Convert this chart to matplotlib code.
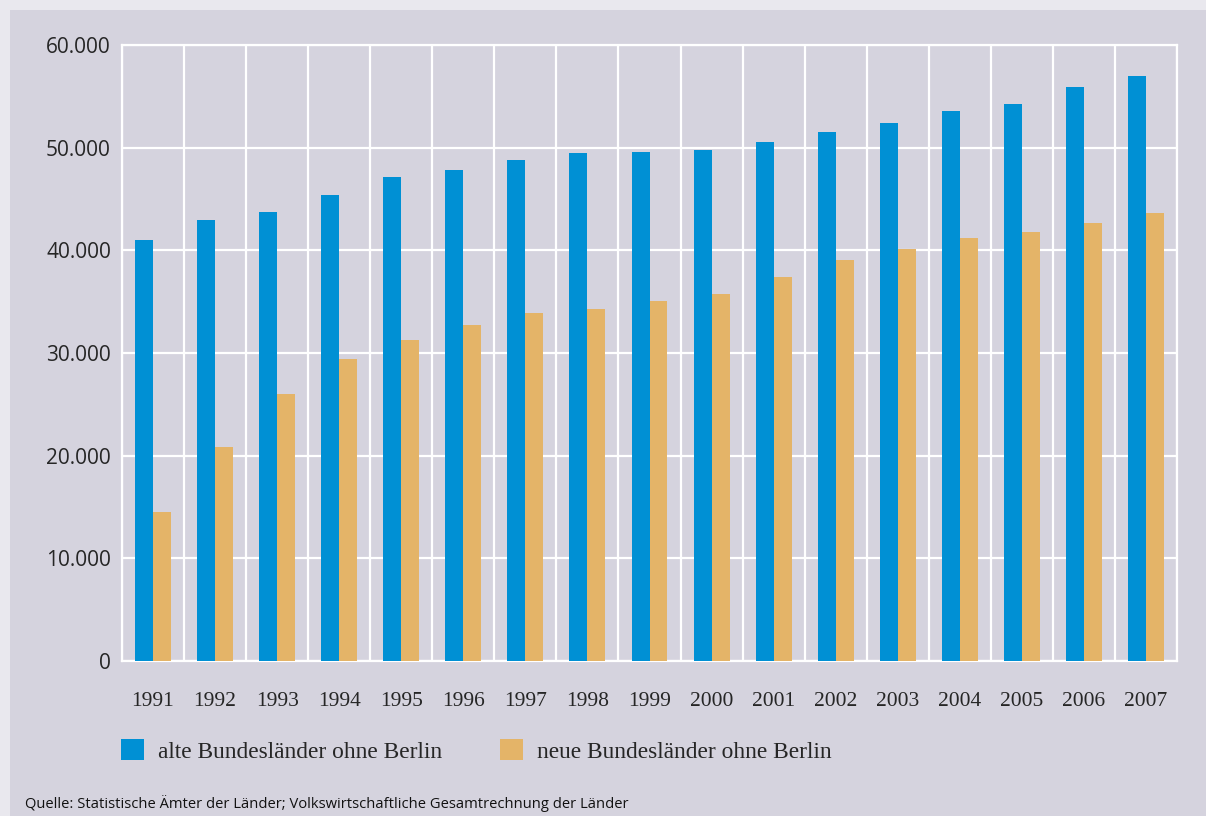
import matplotlib.pyplot as plt
from matplotlib.patches import Rectangle
import numpy as np

years = ['1991', '1992', '1993', '1994', '1995', '1996', '1997', '1998', '1999',
         '2000', '2001', '2002', '2003', '2004', '2005', '2006', '2007']
alte = [41000, 42950, 43700, 45400, 47100, 47800, 48800, 49500, 49600,
        49800, 50600, 51500, 52400, 53600, 54300, 55900, 57000]
neue = [14500, 20800, 26000, 29400, 31300, 32700, 33900, 34300, 35100,
        35700, 37400, 39100, 40100, 41200, 41800, 42700, 43600]
y_ticks = [0, 10000, 20000, 30000, 40000, 50000, 60000]
y_labels = ['0', '10.000', '20.000', '30.000', '40.000', '50.000', '60.000']
labels = ['alte Bundesländer ohne Berlin', 'neue Bundesländer ohne Berlin']

BLUE = '#0090d4'
ORANGE = '#e4b468'
PANEL = '#d5d3de'
OUTER = '#e9e8ee'
TEXT = '#262626'

W, H = 1206, 816
fig = plt.figure(figsize=(W / 100, H / 100), dpi=100, facecolor=OUTER)
fig.patches.append(Rectangle((10 / W, 0), 1, 1 - 10 / H, transform=fig.transFigure,
                             facecolor=PANEL, edgecolor='none', zorder=-5))

ax = fig.add_axes([122 / W, 1 - 661 / H, 1055 / W, 616 / H])
ax.set_facecolor(PANEL)

x = np.arange(len(years))
bw = 0.29
ax.bar(x - bw / 2, alte, bw, color=BLUE, label=labels[0], zorder=3)
ax.bar(x + bw / 2, neue, bw, color=ORANGE, label=labels[1], zorder=3)

ax.set_xlim(-0.5, len(years) - 0.5)
ax.set_ylim(0, 60000)
ax.set_yticks(y_ticks)
ax.set_yticklabels(y_labels)
ax.set_xticks(x)
ax.set_xticklabels(years)
ax.set_xticks(np.arange(len(years) + 1) - 0.5, minor=True)

ax.grid(axis='y', which='major', color='white', linewidth=1.6, zorder=1)
ax.grid(axis='x', which='minor', color='white', linewidth=1.6, zorder=1)
ax.grid(axis='x', which='major', visible=False)
for s in ax.spines.values():
    s.set_color('white')
    s.set_linewidth(1.6)
ax.tick_params(which='both', length=0)
ax.tick_params(axis='x', pad=22)
ax.tick_params(axis='y', pad=8)
for t in ax.get_xticklabels():
    t.set_fontfamily('Liberation Serif')
    t.set_fontsize(15.5)
    t.set_color(TEXT)
for t in ax.get_yticklabels():
    t.set_fontfamily('Open Sans')
    t.set_fontsize(15)
    t.set_color(TEXT)

fig.legend(loc='center left', bbox_to_anchor=(121 / W, 1 - 751 / H), ncol=2,
           frameon=False, borderpad=0, borderaxespad=0,
           handlelength=1.0, handleheight=1.0, handletextpad=0.6, columnspacing=2.46,
           prop={'family': 'Liberation Serif', 'size': 16.8}, labelcolor=TEXT)

fig.text(25 / W, 1 - 803 / H,
         'Quelle: Statistische Ämter der Länder; Volkswirtschaftliche Gesamtrechnung der Länder',
         family='Open Sans', fontsize=10.6, color='#111111', va='center', ha='left')

fig.savefig('out.png', dpi=100, facecolor=OUTER)
